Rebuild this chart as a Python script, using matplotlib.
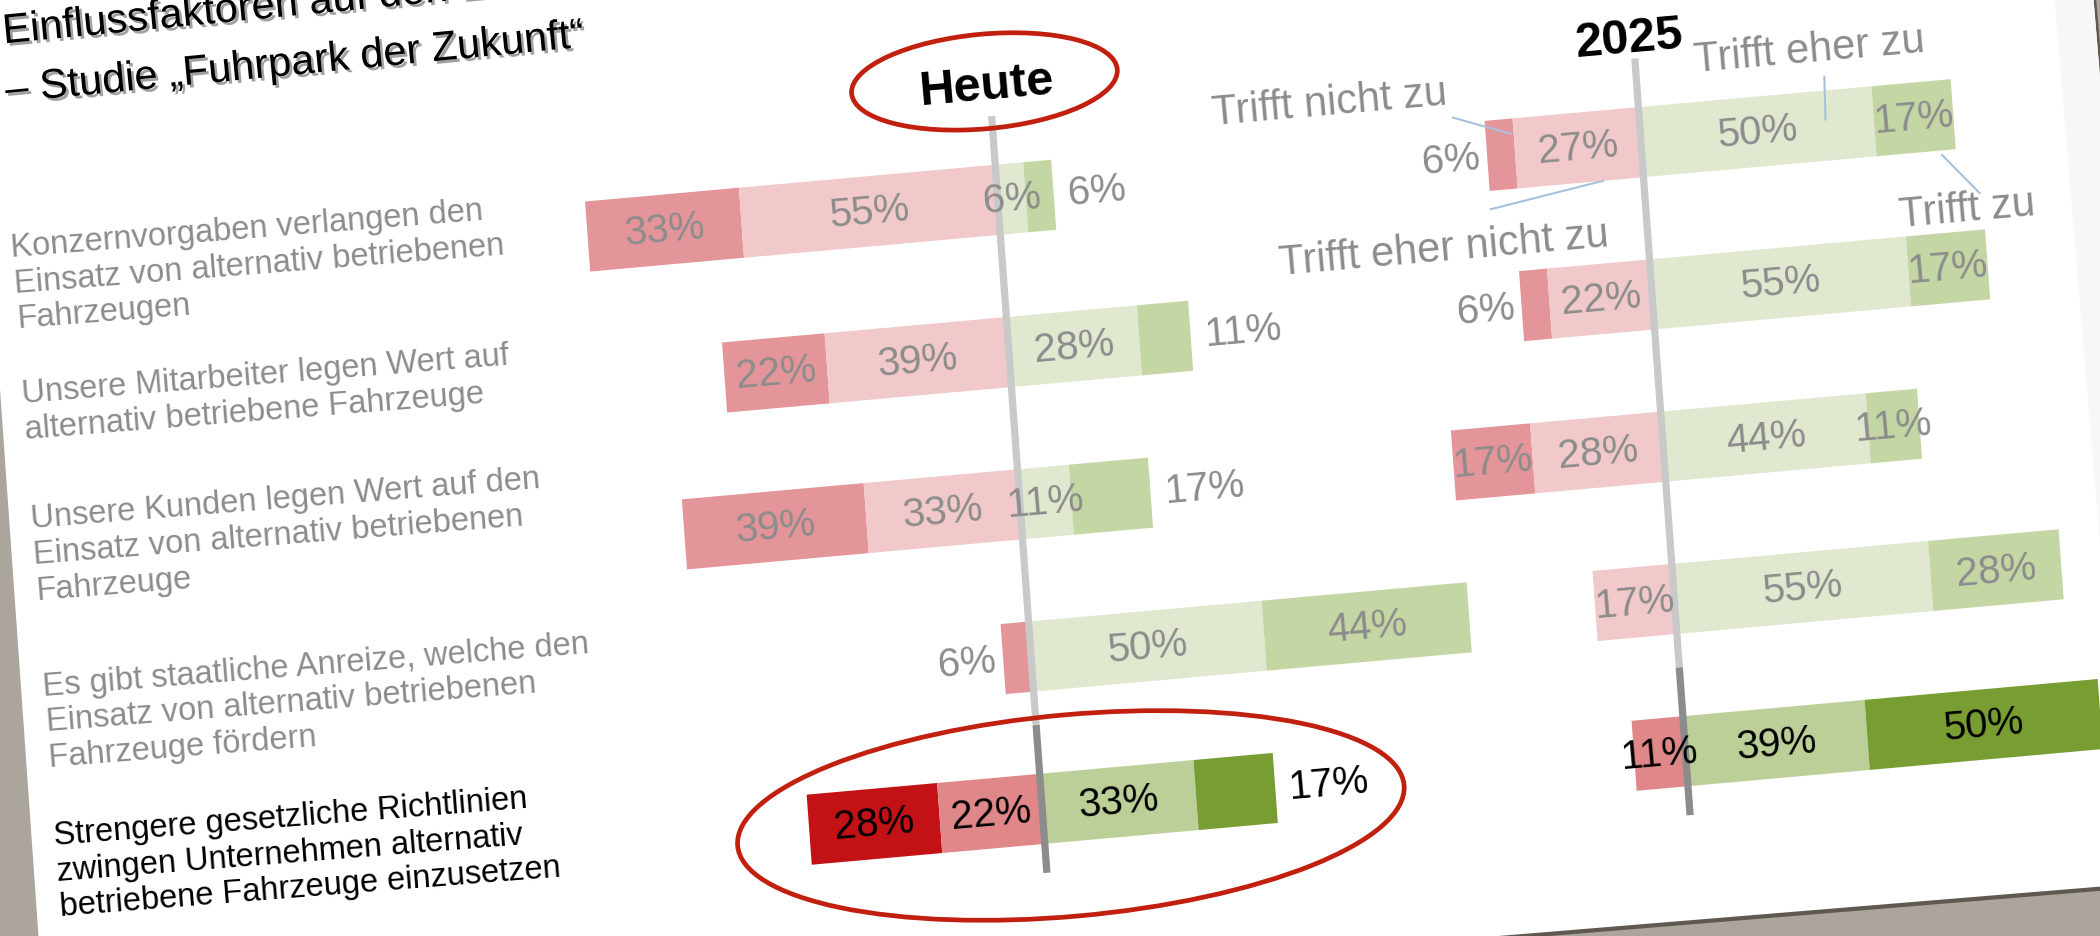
import numpy as np
import matplotlib
matplotlib.use('Agg')
import matplotlib.pyplot as plt
import matplotlib.patheffects as pe
from matplotlib.patches import Ellipse, Polygon
from matplotlib.transforms import Affine2D

plt.rcParams['font.family'] = ['Liberation Sans', 'DejaVu Sans']

# --- data -------------------------------------------------------------
statements = [
    "Konzernvorgaben verlangen den\nEinsatz von alternativ betriebenen\nFahrzeugen",
    "Unsere Mitarbeiter legen Wert auf\nalternativ betriebene Fahrzeuge",
    "Unsere Kunden legen Wert auf den\nEinsatz von alternativ betriebenen\nFahrzeuge",
    "Es gibt staatliche Anreize, welche den\nEinsatz von alternativ betriebenen\nFahrzeuge fördern",
    "Strengere gesetzliche Richtlinien\nzwingen Unternehmen alternativ\nbetriebene Fahrzeuge einzusetzen",
]
categories = ["Trifft nicht zu", "Trifft eher nicht zu", "Trifft eher zu", "Trifft zu"]

heute_nicht = [33, 22, 39, 6, 28]
heute_eher_nicht = [55, 39, 33, 0, 22]
heute_eher = [6, 28, 11, 50, 33]
heute_zu = [6, 11, 17, 44, 17]

z2025_nicht = [6, 6, 17, 0, 0]
z2025_eher_nicht = [27, 22, 28, 17, 11]
z2025_eher = [50, 55, 44, 55, 39]
z2025_zu = [17, 17, 11, 28, 50]

series = {
    "Heute": [heute_nicht, heute_eher_nicht, heute_eher, heute_zu],
    "2025": [z2025_nicht, z2025_eher_nicht, z2025_eher, z2025_zu],
}

# --- style ------------------------------------------------------------
colors = ['#e39599', '#f2c9cb', '#e0e9d0', '#c5d6a5']
colors_hl = ['#c31216', '#e08789', '#bccf99', '#789d33']
label_grey = '#8c8c8c'
panel_offset = {"Heute": 0, "2025": 138}
outside_below = {"Heute": 20, "2025": 10}
label_shift = [-0.03, -0.19, -0.25, -0.15, -0.17]
bar_h = 0.46
n_rows = len(statements)
rows = np.arange(n_rows)

fig = plt.figure(figsize=(21, 9.37), dpi=100)
fig.patch.set_facecolor('#aca59d')
ax = fig.add_axes([0, 0, 1, 1])
ax.set_xlim(0, 1568)
ax.set_ylim(700, 0)
ax.axis('off')

# the slide sheet lying on the table
ax.add_patch(Polygon([(-22, -50), (1561, -50), (1620, 662), (36, 792)],
                     closed=True, facecolor='#5f5952', edgecolor='none', zorder=0))
ax.add_patch(Polygon([(-24, -50), (1559, -50), (1618, 659), (35, 789)],
                     closed=True, facecolor='white', edgecolor='none', zorder=0))
ax.add_patch(Polygon([(1530, -50), (1559, -50), (1618, 659), (1589, 662)],
                     closed=True, facecolor='#f7f7f7', edgecolor='none', zorder=0))

# chart space (percent, row) -> tilted photographed slide
slide = Affine2D(np.array([[3.48, 8.3, 745.0],
                           [-0.312, 113.75, 150.0],
                           [0.0, 0.0, 1.0]]))
tr = slide + ax.transData

for name, off in panel_offset.items():
    nicht, enicht, eher, zu = [np.array(s) for s in series[name]]
    lefts = [-(enicht + nicht), -enicht, np.zeros(n_rows), eher]
    widths = [nicht, enicht, eher, zu]
    for k in range(4):
        cols = [colors_hl[k] if r == n_rows - 1 else colors[k] for r in rows]
        ax.barh(rows, widths[k], left=lefts[k] + off, height=bar_h, color=cols,
                linewidth=0, transform=tr, zorder=2)

    # value labels
    for r in rows:
        tc = 'black' if r == n_rows - 1 else label_grey
        outer_left = 0 if nicht[r] > 0 else 1
        outer_right = 3 if zu[r] > 0 else 2
        for k in range(4):
            w = widths[k][r]
            if w == 0:
                continue
            l = lefts[k][r] + off
            txt = f"{w}%"
            if k == outer_left and w < outside_below[name]:
                ax.text(l - 1.5, r, txt, ha='right', va='center', fontsize=29,
                        color=tc, rotation=5, rotation_mode='anchor',
                        transform=tr, zorder=4)
            elif k == outer_right and w < outside_below[name]:
                ax.text(l + w + 3, r, txt, ha='left', va='center', fontsize=29,
                        color=tc, rotation=5, rotation_mode='anchor',
                        transform=tr, zorder=4)
            else:
                ax.text(l + w / 2, r, txt, ha='center', va='center', fontsize=29,
                        color=tc, rotation=5, rotation_mode='anchor',
                        transform=tr, zorder=4)

    # centre line
    ax.plot([off, off], [-0.55, 3.45], color='#c9c9c9', lw=5.2,
            solid_capstyle='butt', transform=tr, zorder=3)
    ax.plot([off, off], [3.45, 4.42], color='#8c8c8c', lw=5.2,
            solid_capstyle='butt', transform=tr, zorder=3)

# headers
ax.text(-0.5, -0.75, "Heute", ha='center', va='center', fontsize=35,
        fontweight='bold', rotation=5, rotation_mode='anchor', transform=tr, zorder=5)
ax.add_patch(Ellipse((-1, -0.78), 57, 0.62, fill=False, edgecolor='#c2200f',
                     lw=3.4, transform=tr, zorder=5))
ax.text(panel_offset["2025"] - 1, -0.68, "2025", ha='center', va='center',
        fontsize=35, fontweight='bold', rotation=5, rotation_mode='anchor',
        transform=tr, zorder=5)
ax.add_patch(Ellipse((6, 4.06), 143, 1.32, fill=False, edgecolor='#c2200f',
                     lw=3.4, transform=tr, zorder=5))

# category legend with leader lines (around the first 2025 bar)
o = panel_offset["2025"]
legend_pos = [(-65.7, -0.44), (-43.7, 0.58), (37.3, -0.50), (68.5, 0.63)]
leaders = [((-39.7, -0.27), (-27.6, -0.13)), ((-33.1, 0.35), (-8.7, 0.23)),
           ((40.1, -0.32), (39.7, -0.04)), ((64.0, 0.26), (71.4, 0.53))]
for cat, (lu, lv), ((u0, v0), (u1, v1)) in zip(categories, legend_pos, leaders):
    ax.text(o + lu, lv, cat, ha='center', va='center', fontsize=30,
            color=label_grey, rotation=5, rotation_mode='anchor',
            transform=tr, zorder=5)
    ax.plot([o + u0, o + u1], [v0, v1], color='#a9c0dc', lw=1.5,
            transform=tr, zorder=5)

# statements on the left
for r, s in enumerate(statements):
    last = r == n_rows - 1
    ax.text(-211, r + label_shift[r], s, ha='left', va='center', fontsize=23.5,
            color='black' if last else label_grey, rotation=4.5,
            rotation_mode='anchor', linespacing=1.2, transform=tr, zorder=5)

# title (first line runs off the top of the photo, as in the original)
shadow = [pe.withSimplePatchShadow(offset=(2, -2), shadow_rgbFace='#444444', alpha=0.5)]
ax.text(2, 25, "Einflussfaktoren auf den Einsatz", ha='left', va='center',
        fontsize=30, rotation=5.5, rotation_mode='anchor', path_effects=shadow, zorder=6)
ax.text(4, 69, "– Studie „Fuhrpark der Zukunft“", ha='left', va='center',
        fontsize=30, rotation=5.5, rotation_mode='anchor', path_effects=shadow, zorder=6)

fig.savefig('out.png', dpi=100, facecolor=fig.get_facecolor())
